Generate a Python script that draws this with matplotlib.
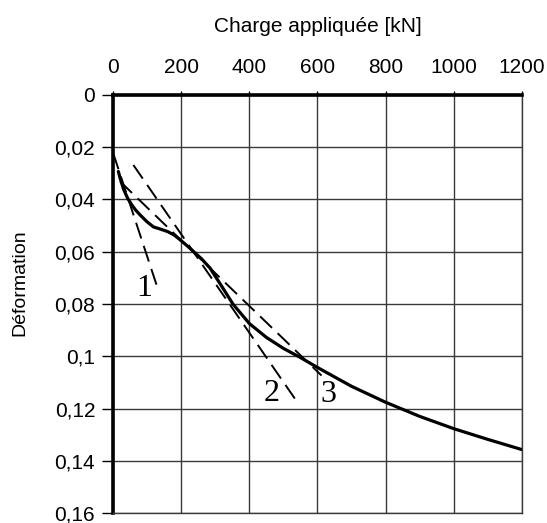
import matplotlib
matplotlib.use("Agg")
import matplotlib.pyplot as plt

# Courbe charge-déformation
charge = [15, 20, 30, 42, 54, 66, 78, 98, 118, 140, 160, 180, 196, 215, 235,
          260, 284, 320, 352, 400, 450, 500, 550, 600, 700, 800, 900, 1000,
          1100, 1200]
deformation = [0.0293, 0.0318, 0.0360, 0.0395, 0.0420, 0.0441, 0.0458,
               0.0484, 0.0505, 0.0514, 0.0523, 0.0537, 0.0554, 0.0575,
               0.0598, 0.0628, 0.0662, 0.0735, 0.0801, 0.0875, 0.0928,
               0.0970, 0.1005, 0.1043, 0.1115, 0.1176, 0.1230, 0.1277,
               0.1318, 0.1357]

# Droites en tirets 1, 2, 3 (extrémités)
line1_x = [0, 133]
line1_y = [0.0224, 0.0750]
line2_x = [59, 534]
line2_y = [0.0268, 0.1163]
line3_x = [20, 612]
line3_y = [0.0331, 0.1074]

line_labels = ["1", "2", "3"]
label_x = [90, 465, 633]
label_y = [0.0739, 0.1141, 0.1146]

xticks = [0, 200, 400, 600, 800, 1000, 1200]
yticks = [0, 0.02, 0.04, 0.06, 0.08, 0.10, 0.12, 0.14, 0.16]
ytick_labels = ["0", "0,02", "0,04", "0,06", "0,08", "0,1", "0,12", "0,14", "0,16"]

plt.rcParams['font.family'] = ['Liberation Sans', 'DejaVu Sans']

fig = plt.figure(figsize=(5.47, 5.23), dpi=100)
ax = fig.add_axes([0.2071, 0.0191, 0.7466, 0.7993])

ax.set_xlim(0, 1200)
ax.set_ylim(0.16, 0)

ax.grid(True, color='#3a3a3a', linewidth=1.0)
ax.set_axisbelow(True)

dash = dict(color='black', linewidth=1.4, linestyle=(0, (8.5, 4)))
ax.plot(line1_x, line1_y, **dash)
ax.plot(line2_x, line2_y, **dash)
ax.plot(line3_x, line3_y, **dash)
ax.plot(charge, deformation, color='black', linewidth=2.3,
        solid_capstyle='round', solid_joinstyle='round')

for t, lx, ly in zip(line_labels, label_x, label_y):
    ax.text(lx, ly, t, ha='center', va='center', fontsize=23,
            family=['Liberation Serif', 'DejaVu Serif'], color='black')

ax.xaxis.tick_top()
ax.xaxis.set_label_position('top')
ax.set_xticks(xticks)
ax.set_xticklabels([str(v) for v in xticks])
ax.set_yticks(yticks)
ax.set_yticklabels(ytick_labels)
ax.tick_params(axis='x', length=3, width=1, pad=10, labelsize=15)
ax.tick_params(axis='y', length=8, width=1, pad=5, labelsize=15)
ax.set_xlabel('Charge appliquée [kN]', fontsize=15, labelpad=19)

for side in ['left', 'top']:
    ax.spines[side].set_linewidth(2.6)
    ax.spines[side].set_color('black')
for side in ['right', 'bottom']:
    ax.spines[side].set_linewidth(1.0)
    ax.spines[side].set_color('#3a3a3a')

fig.text(20 / 547, 1 - 283 / 523, 'Déformation', rotation=90,
         ha='center', va='center', fontsize=14)

fig.savefig('out.png', dpi=100)
